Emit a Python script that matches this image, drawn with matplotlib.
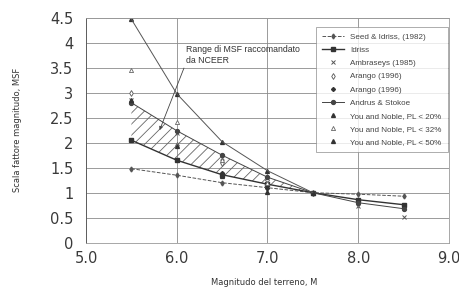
import numpy as np
import matplotlib.pyplot as plt

# magnitudo
M = [5.5, 6.0, 6.5, 7.0, 7.5, 8.0, 8.5]

# MSF (nan = nessun valore)
seed_idriss = [1.48, 1.35, 1.20, 1.10, 1.00, 0.97, 0.93]
idriss = [2.05, 1.65, 1.36, 1.17, 1.00, 0.86, 0.76]
ambraseys = [2.86, 2.20, 1.69, 1.30, 1.00, 0.73, 0.52]
arango_a = [3.00, 1.95, 1.60, 1.25, 1.00, 0.78, np.nan]
arango_b = [np.nan, 1.65, 1.40, 1.10, 1.00, 0.85, np.nan]
andrus_stokoe = [2.80, 2.24, 1.75, 1.31, 1.00, 0.80, 0.68]
yn_20 = [2.86, 1.93, 1.34, 1.02, np.nan, np.nan, np.nan]
yn_32 = [3.45, 2.42, 1.66, 1.20, np.nan, np.nan, np.nan]
yn_50 = [4.47, 2.98, 2.02, 1.44, 1.00, np.nan, np.nan]

LEG_FONT = ['Liberation Sans', 'DejaVu Sans']
plt.rcParams['hatch.linewidth'] = 0.6

fig = plt.figure(figsize=(4.6, 2.91), dpi=100)
ax = fig.add_axes([0.187, 0.166, 0.789, 0.773])

# range raccomandato NCEER (tratteggio)
M_rng = M[:5]
ax.fill_between(M_rng, idriss[:5], andrus_stokoe[:5], facecolor='none',
                edgecolor='#666666', hatch='///', lw=0)

ax.plot(M, seed_idriss, c='#555555', ls='--', lw=0.7, marker='d', ms=2.5,
        label='Seed & Idriss, (1982)')
ax.plot(M, idriss, c='#333333', ls='-', lw=1.0, marker='s', ms=3,
        label='Idriss')
ax.plot(M, ambraseys, c='#555555', ls='none', marker='x', ms=2.5, mew=0.7,
        label='Ambraseys (1985)')
ax.plot(M, arango_a, c='#555555', ls='none', marker='d', ms=3, mfc='white',
        mew=0.6, label='Arango (1996)')
ax.plot(M, arango_b, c='#333333', ls='none', marker='D', ms=2,
        label='Arango (1996)')
ax.plot(M, andrus_stokoe, c='#444444', ls='-', lw=0.7, marker='o', ms=2.8,
        label='Andrus & Stokoe')
ax.plot(M, yn_20, c='#333333', ls='none', marker='^', ms=2.8,
        label='You and Noble, PL < 20%')
ax.plot(M, yn_32, c='#666666', ls='none', marker='^', ms=3, mfc='white',
        mew=0.6, label='You and Noble, PL < 32%')
ax.plot(M, yn_50, c='#333333', ls='none', marker='^', ms=2.8,
        label='You and Noble, PL < 50%')
ax.plot(M, yn_50, c='#555555', ls='-', lw=0.7)

ax.annotate('Range di MSF raccomandato\nda NCEER', xy=(5.8, 2.2),
            xytext=(6.1, 3.75), fontsize=6.3, color='#333333',
            family=LEG_FONT, ha='left', va='center', linespacing=1.3,
            arrowprops=dict(arrowstyle='-|>', color='#444444', lw=0.6,
                            mutation_scale=5, shrinkA=0,
                            relpos=(0.0, 0.1)))

ax.set_xlim(5.0, 9.0)
ax.set_ylim(0, 4.5)
ax.set_xticks([5, 6, 7, 8, 9])
ax.set_xticklabels(['5.0', '6.0', '7.0', '8.0', '9.0'])
ax.set_yticks(np.arange(0, 4.51, 0.5))
ax.set_yticklabels(['0', '0.5', '1', '1.5', '2', '2.5', '3', '3.5', '4', '4.5'])
ax.tick_params(axis='both', length=0, labelsize=10.5, labelcolor='#3a3a3a')
ax.tick_params(axis='y', pad=9)
ax.tick_params(axis='x', pad=6)
ax.grid(True, color='#8a8a8a', lw=0.6)
ax.set_axisbelow(True)
for s in ax.spines.values():
    s.set_color('#999999')
    s.set_linewidth(0.6)
ax.spines['left'].set_color('#555555')

ax.set_ylabel('Scala fattore magnitudo, MSF', fontsize=6, color='#333333',
              labelpad=20)
fig.text(0.575, 0.03, 'Magnitudo del terreno, M', fontsize=6, color='#333333',
         ha='center', va='center')

leg = ax.legend(loc='upper right', bbox_to_anchor=(448 / 460, 1 - 27 / 291),
                bbox_transform=fig.transFigure, frameon=True,
                prop={'family': LEG_FONT, 'size': 5.8},
                fancybox=False, edgecolor='#888888', handlelength=2.7,
                labelspacing=0.68, borderpad=0.8, handletextpad=0.8,
                borderaxespad=0)
leg.get_frame().set_linewidth(0.6)
for t in leg.get_texts():
    t.set_color('#444444')

fig.savefig('out.png', dpi=100)
